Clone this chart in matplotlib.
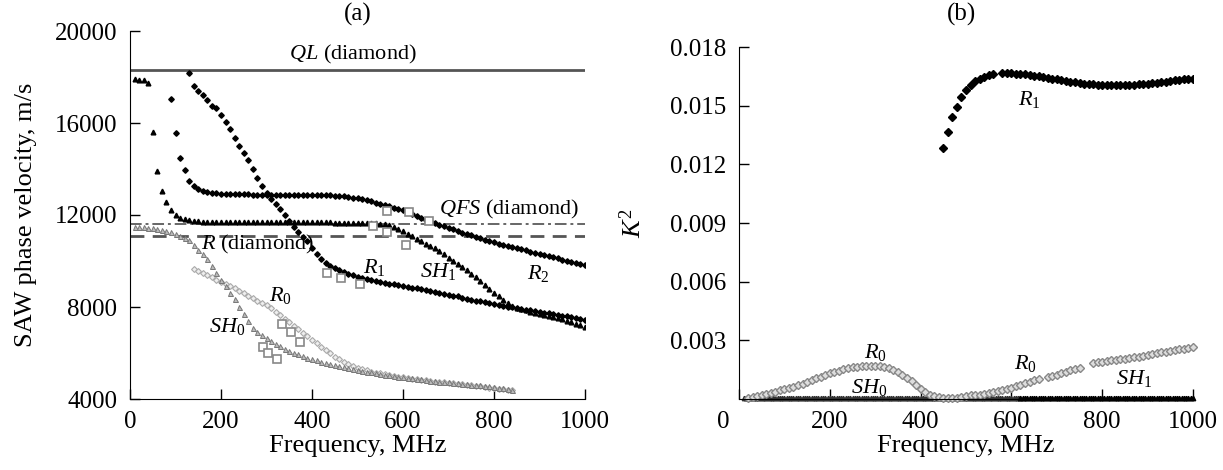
import matplotlib
matplotlib.use("Agg")
import matplotlib.pyplot as plt
import matplotlib.transforms as mtransforms
import numpy as np

plt.rcParams['font.family'] = ['Liberation Serif', 'DejaVu Serif']
plt.rcParams['mathtext.fontset'] = 'custom'
plt.rcParams['mathtext.rm'] = 'Liberation Serif'
plt.rcParams['mathtext.it'] = 'Liberation Serif:italic'

# ---------- (a) phase velocity, m/s ----------
f_sh1 = np.arange(10, 1001, 10)
v_sh1 = [17900, 17890, 17860, 17760, 15600, 13900, 13050, 12560, 12230, 12020,
         11890, 11820, 11770, 11740, 11720,
         11710, 11710, 11700, 11700, 11700, 11700, 11700, 11700, 11700, 11700,
         11700, 11700, 11700, 11700, 11700, 11690, 11690, 11690, 11690, 11690,
         11690, 11690, 11680, 11680, 11680, 11680, 11680, 11680, 11680, 11670,
         11670, 11670, 11670, 11660, 11660, 11660, 11650, 11650, 11640, 11630,
         11610, 11560, 11480, 11390, 11290, 11180, 11070, 10960, 10850, 10750,
         10650, 10560, 10440, 10300, 10150, 10010, 9870, 9750, 9610, 9450,
         9290, 9120, 8960, 8800, 8630, 8470, 8310, 8170, 8060, 7970,
         7900, 7850, 7800, 7750, 7700, 7660, 7620, 7580, 7530, 7490,
         7400, 7330, 7260, 7210, 7150]

f_r1 = np.arange(130, 1001, 10)
v_r1 = [18190, 17620, 17400, 17200, 17020, 16750, 16650, 16350, 16050, 15720,
        15360, 15000, 14700, 14380, 14000, 13620, 13260, 12950, 12680, 12460,
        12250, 12000, 11740, 11500, 11260, 11030, 10850, 10560, 10290, 10100,
        9930, 9800, 9690, 9590, 9510, 9440, 9380, 9320, 9270, 9220,
        9170, 9130, 9090, 9050, 9010, 8980, 8950, 8910, 8880, 8840,
        8810, 8770, 8740, 8700, 8660, 8620, 8580, 8540, 8500, 8460,
        8400, 8360, 8320, 8280, 8240, 8200, 8160, 8120, 8090, 8060,
        8020, 7990, 7960, 7920, 7890, 7860, 7820, 7790, 7760, 7730,
        7700, 7660, 7630, 7600, 7560, 7530, 7490, 7450]

f_r2 = np.arange(90, 1001, 10)
v_r2 = [17030, 15550, 14500, 13950, 13500, 13250, 13120, 13050, 13000, 12970,
        12950, 12930, 12920, 12910, 12900, 12900, 12900, 12900, 12890, 12890,
        12890, 12890, 12890, 12890, 12880, 12880, 12880, 12880, 12880, 12880,
        12870, 12870, 12870, 12860, 12860, 12850, 12840, 12830, 12810, 12790,
        12760, 12730, 12690, 12640, 12590, 12540, 12480, 12430, 12370, 12320,
        12270, 12220, 12130, 12040, 11950, 11870, 11790, 11720, 11650, 11580,
        11510, 11440, 11370, 11300, 11230, 11170, 11110, 11050, 10990, 10930,
        10870, 10820, 10760, 10710, 10660, 10610, 10560, 10510, 10460, 10410,
        10360, 10310, 10260, 10210, 10160, 10110, 10060, 10010, 9960, 9910,
        9860, 9810]

f_sh0 = np.arange(10, 841, 10)
v_sh0 = [11500, 11480, 11460, 11440, 11420, 11390, 11350, 11300, 11240, 11170,
         11080, 10990, 10900, 10700, 10500, 10300, 10100, 9800, 9500, 9180,
         8900, 8630, 8330, 8020, 7700, 7400, 7100, 6920, 6780, 6650,
         6520, 6400, 6290, 6190, 6100, 6020, 5940, 5870, 5800, 5740,
         5680, 5620, 5570, 5520, 5470, 5430, 5390, 5350, 5310, 5270,
         5230, 5190, 5160, 5120, 5090, 5060, 5030, 5000, 4970, 4950,
         4920, 4900, 4870, 4850, 4820, 4800, 4780, 4760, 4740, 4720,
         4710, 4690, 4670, 4650, 4630, 4610, 4590, 4570, 4550, 4530,
         4500, 4470, 4440, 4400]

f_r0 = np.arange(140, 841, 10)
v_r0 = [9650, 9570, 9480, 9390, 9290, 9180, 9080, 8990, 8910, 8810,
        8700, 8600, 8500, 8390, 8280, 8170, 8070, 7950, 7800, 7640,
        7480, 7330, 7180, 7030, 6880, 6730, 6570, 6420, 6270, 6120,
        5980, 5840, 5730, 5620, 5520, 5430, 5350, 5290, 5240, 5190,
        5150, 5110, 5070, 5030, 5000, 4970, 4940, 4910, 4880, 4860,
        4830, 4810, 4790, 4760, 4740, 4720, 4700, 4680, 4660, 4640,
        4620, 4600, 4570, 4550, 4520, 4500, 4470, 4450, 4430, 4410,
        4390]

# measured points
f_exp = [293, 304, 323, 334, 354, 373, 432, 464, 505, 535, 564, 564, 606, 614, 657]
v_exp = [6275, 5985, 5725, 7260, 6900, 6490, 9490, 9250, 8990, 11535, 12174,
         11250, 10700, 12145, 11760]

# bulk wave velocities in diamond
v_ql = 18300
v_qfs = 11600
v_r = 11100

# ---------- (b) coupling coefficient K^2 ----------
f_k_r1 = np.concatenate([np.arange(450, 561, 10), np.arange(580, 1001, 10)])
k_r1 = [0.01285, 0.01365, 0.0144, 0.01495, 0.01543, 0.0158, 0.01605, 0.01625,
        0.01638, 0.01648, 0.01656, 0.01662,
        0.01668, 0.01667, 0.01666, 0.01664, 0.01662, 0.0166, 0.01657, 0.01654,
        0.0165, 0.01646, 0.01642, 0.01638, 0.01634, 0.0163, 0.01626, 0.01622,
        0.01619, 0.01616, 0.01613, 0.01611, 0.01609, 0.01607, 0.01606, 0.01605,
        0.01605, 0.01605, 0.01605, 0.01605, 0.01606, 0.01607, 0.01609, 0.01611,
        0.01613, 0.01615, 0.01617, 0.0162, 0.01623, 0.01626, 0.01629, 0.01632,
        0.01635, 0.01637, 0.01638]

f_k_r0 = np.concatenate([np.arange(20, 661, 10), np.arange(680, 751, 10),
                         np.arange(780, 1001, 10)])
k_r0 = [0.00005, 0.0001, 0.00015, 0.0002, 0.00026, 0.00032, 0.00038, 0.00044,
        0.0005, 0.00056, 0.00062, 0.0007, 0.00078, 0.00087, 0.00096, 0.00105,
        0.00114, 0.00123, 0.00131, 0.00138, 0.00145, 0.00151, 0.00157, 0.00162,
        0.00166, 0.00169, 0.00171, 0.00171, 0.0017, 0.00167, 0.00162, 0.00156,
        0.00148, 0.00139, 0.00125, 0.00108, 0.0009, 0.00071, 0.00052, 0.00036,
        0.00023, 0.00014, 0.00008, 0.00005, 0.00004, 0.00005, 0.00007, 0.0001,
        0.00014, 0.00018, 0.0002, 0.00023, 0.00027, 0.0003, 0.00036, 0.00041,
        0.00046, 0.00052, 0.00058, 0.00065, 0.00073, 0.0008, 0.00088, 0.00096,
        0.00103,
        0.00111, 0.00118, 0.00125, 0.00132, 0.00139, 0.00146, 0.00153, 0.0016,
        0.00182, 0.00187, 0.0019, 0.00194, 0.00197, 0.002, 0.00203, 0.00206,
        0.00209, 0.00213, 0.00217, 0.00222, 0.00226, 0.0023, 0.00234, 0.00238,
        0.00242, 0.00246, 0.0025, 0.00254, 0.00258, 0.00262, 0.00266]

f_k_sh0 = np.arange(10, 621, 5)
k_sh0 = [0.00003] * len(f_k_sh0)
f_k_sh1 = np.arange(620, 1001, 5)
k_sh1 = [0.00003] * len(f_k_sh1)

freq_ticks = [0, 200, 400, 600, 800, 1000]
v_ticks = [4000, 8000, 12000, 16000, 20000]
k_ticks = [0.003, 0.006, 0.009, 0.012, 0.015, 0.018]
k_tick_labels = ['0.003', '0.006', '0.009', '0.012', '0.015', '0.018']

W, H = 1223, 470
fig = plt.figure(figsize=(W / 100, H / 100), dpi=100)
ax1 = fig.add_axes([130 / W, 1 - 399 / H, 455 / W, 368 / H])
ax2 = fig.add_axes([739 / W, 1 - 399 / H, 454 / W, 352 / H])

for ax in (ax1, ax2):
    ax.spines['top'].set_visible(False)
    ax.spines['right'].set_visible(False)
    ax.tick_params(direction='in', length=7, width=1, labelsize=18, pad=9)
    ax.set_xlim(0, 1000)
    ax.set_xticks(freq_ticks)
    ax.set_xlabel('Frequency, MHz', fontsize=19, labelpad=1)

# (a)
ax1.set_ylim(4000, 20000)
ax1.set_yticks(v_ticks)
ax1.axhline(v_ql, color='#555555', lw=2)
ax1.axhline(v_qfs, color='#666666', lw=1.4, ls=(0, (6, 2, 1.5, 2)))
ax1.axhline(v_r, color='#555555', lw=2, ls=(0, (5, 3)))

ax1.plot(f_r0, v_r0, ls='none', marker='D', ms=3.0, mfc='#eeeeee', mec='#aaaaaa', mew=0.8)
ax1.plot(f_sh0, v_sh0, ls='none', marker='^', ms=3.6, mfc='#bbbbbb', mec='#777777', mew=0.7)
ax1.plot(f_r2, v_r2, ls='none', marker='D', ms=2.8, color='black')
ax1.plot(f_r1, v_r1, ls='none', marker='D', ms=2.8, color='black')
ax1.plot(f_sh1, v_sh1, ls='none', marker='^', ms=3.4, color='black')
ax1.plot(f_exp, v_exp, ls='none', marker='s', ms=5.5, mfc='white', mec='#888888', mew=1.2)

ax1.text(489, 18960, r'$QL$ (diamond)', fontsize=16, ha='center', va='center')
ax1.text(834, 12260, r'$QFS$ (diamond)', fontsize=16, ha='center', va='center')
ax1.text(281, 10700, r'$R$ (diamond)', fontsize=16, ha='center', va='center')
ax1.text(538, 9700, r'$R_1$', fontsize=16, ha='center', va='center')
ax1.text(678, 9540, r'$SH_1$', fontsize=16, ha='center', va='center')
ax1.text(898, 9460, r'$R_2$', fontsize=16, ha='center', va='center')
ax1.text(331, 8520, r'$R_0$', fontsize=16, ha='center', va='center')
ax1.text(213, 7140, r'$SH_0$', fontsize=16, ha='center', va='center')
ax1.set_ylabel('SAW phase velocity, m/s', fontsize=19)
ax1.yaxis.set_label_coords(-0.204, 0.5)

# (b)
ax2.set_ylim(0, 0.018)
ax2.set_yticks(k_ticks)
ax2.set_yticklabels(k_tick_labels)
ax2.plot(f_k_sh0, k_sh0, ls='none', marker='^', ms=3.2, color='#333333', clip_on=False)
ax2.plot(f_k_sh1, k_sh1, ls='none', marker='^', ms=3.2, color='black', clip_on=False)
ax2.plot(f_k_r0, k_r0, ls='none', marker='D', ms=4.2, mfc='#dddddd', mec='#888888', mew=1.0, clip_on=False)
ax2.plot(f_k_r1, k_r1, ls='none', marker='D', ms=4.2, color='black')

ax2.text(640, 0.0153, r'$R_1$', fontsize=16, ha='center', va='center')
ax2.text(300, 0.00237, r'$R_0$', fontsize=16, ha='center', va='center')
ax2.text(286, 0.0006, r'$SH_0$', fontsize=16, ha='center', va='center')
ax2.text(631, 0.00182, r'$R_0$', fontsize=16, ha='center', va='center')
ax2.text(871, 0.00106, r'$SH_1$', fontsize=16, ha='center', va='center')
ax2.set_ylabel(r'$K^2$', fontsize=19)
ax2.yaxis.set_label_coords(-0.205, 0.5)

# the zero label on (b) sits left of the axis
lbl0 = ax2.get_xticklabels()[0]
lbl0.set_transform(lbl0.get_transform() +
                   mtransforms.ScaledTranslation(-16 / 100, 0, fig.dpi_scale_trans))

fig.text(358 / W, 1 - 14 / H, '(a)', fontsize=18, ha='center', va='center')
fig.text(962 / W, 1 - 14 / H, '(b)', fontsize=18, ha='center', va='center')

fig.savefig('out.png', dpi=100)
